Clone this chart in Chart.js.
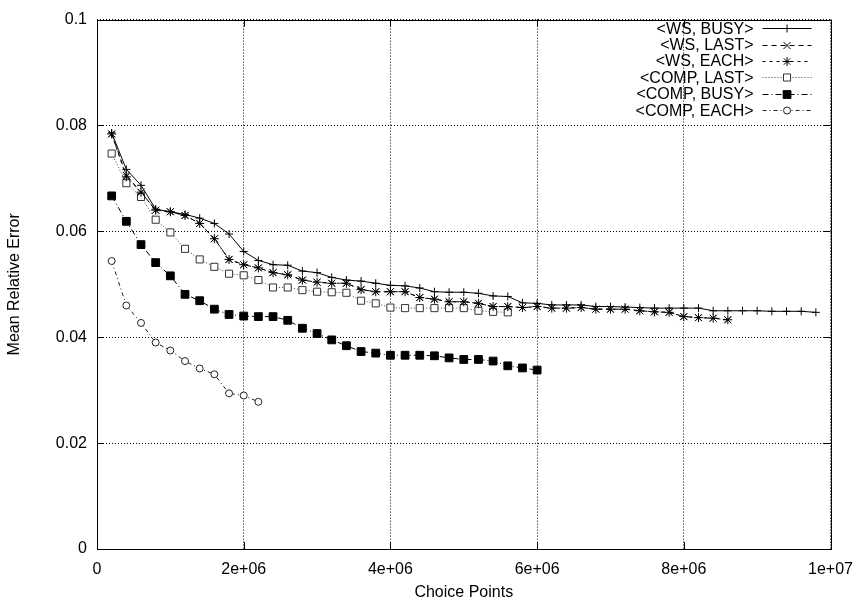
<!DOCTYPE html>
<html>
<head>
<meta charset="utf-8">
<script src="https://cdn.jsdelivr.net/npm/chart.js@4.4.1/dist/chart.umd.min.js"></script>
<style>
html,body{margin:0;padding:0;background:#fff;}
#wrap{width:864px;height:599px;position:relative;}
</style>
</head>
<body>
<div id="wrap"><canvas id="c" width="864" height="599"></canvas></div>
<script>
// ---- data ----
const choicePoints = [200000,400000,600000,800000,1000000,1200000,1400000,1600000,1800000,2000000,
  2200000,2400000,2600000,2800000,3000000,3200000,3400000,3600000,3800000,4000000,
  4200000,4400000,4600000,4800000,5000000,5200000,5400000,5600000,5800000,6000000,
  6200000,6400000,6600000,6800000,7000000,7200000,7400000,7600000,7800000,8000000,
  8200000,8400000,8600000,8800000,9000000,9200000,9400000,9600000,9800000];
const seriesNames = ['<WS, BUSY>','<WS, LAST>','<WS, EACH>','<COMP, LAST>','<COMP, BUSY>','<COMP, EACH>'];
const wsBusy = [0.0786,0.0717,0.0687,0.0642,0.0637,0.0632,0.0625,0.0615,0.0595,0.0562,
  0.0545,0.0537,0.0536,0.0525,0.0522,0.0513,0.0508,0.0506,0.0502,0.0498,
  0.0497,0.0493,0.0486,0.0485,0.0485,0.0483,0.0478,0.0477,0.0465,0.0464,
  0.0461,0.0461,0.0461,0.0458,0.0458,0.0457,0.0456,0.0455,0.0455,0.0455,
  0.0455,0.0450,0.0450,0.0450,0.0450,0.0449,0.0449,0.0449,0.0447];
const wsLast = [0.0784,0.0706,0.0674,0.0640,0.0637,0.0630,0.0615,0.0586,0.0547,0.0537,
  0.0531,0.0522,0.0518,0.0508,0.0504,0.0502,0.0502,0.0490,0.0486,0.0486,
  0.0486,0.0475,0.0472,0.0467,0.0467,0.0464,0.0458,0.0458,0.0456,0.0458,
  0.0455,0.0455,0.0456,0.0453,0.0453,0.0453,0.0450,0.0448,0.0447,0.0439,
  0.0437,0.0436,0.0433];
const wsEach = [0.0784,0.0703,0.0674,0.0640,0.0637,0.0630,0.0615,0.0586,0.0547,0.0537,
  0.0531,0.0522,0.0518,0.0508,0.0504,0.0502,0.0502,0.0490,0.0486,0.0486,
  0.0486,0.0475,0.0472,0.0467,0.0467,0.0464,0.0458,0.0458,0.0456,0.0458,
  0.0455,0.0455,0.0456,0.0453,0.0453,0.0453,0.0450,0.0448,0.0447,0.0439,
  0.0437,0.0436,0.0433];
const compLast = [0.0747,0.0691,0.0665,0.0622,0.0598,0.0567,0.0547,0.0533,0.0520,0.0517,
  0.0508,0.0494,0.0494,0.0489,0.0486,0.0485,0.0484,0.0469,0.0464,0.0456,
  0.0455,0.0455,0.0455,0.0455,0.0455,0.0450,0.0448,0.0447];
const compBusy = [0.0667,0.0619,0.0575,0.0541,0.0516,0.0481,0.0469,0.0453,0.0443,0.0440,
  0.0439,0.0439,0.0432,0.0417,0.0407,0.0395,0.0384,0.0373,0.0370,0.0366,
  0.0366,0.0366,0.0365,0.0361,0.0358,0.0358,0.0355,0.0346,0.0342,0.0338];
const compEach = [0.0544,0.0460,0.0427,0.0390,0.0375,0.0355,0.0341,0.0330,0.0294,0.0290,0.0278];
const xTicks = [0,2000000,4000000,6000000,8000000,10000000];
const yTicks = [0,0.02,0.04,0.06,0.08,0.1];

// ---- styles ----
const FONT = "'Liberation Sans', Arial, Helvetica, sans-serif";
const styles = [
  {dash:[], pointStyle:'cross', radius:4, fill:'#000', stroke:'#000', lineColor:'#000'},
  {dash:[5,4], pointStyle:'crossRot', radius:5, fill:'#000', stroke:'#000', lineColor:'#000'},
  {dash:[3,4], pointStyle:'star', radius:4.5, fill:'#000', stroke:'#000', lineColor:'#000'},
  {dash:[1,2], pointStyle:'rect', radius:5, fill:'#fff', stroke:'#333', lineColor:'#444'},
  {dash:[6,3,1,3], pointStyle:'rect', radius:5.5, fill:'#000', stroke:'#000', lineColor:'#000'},
  {dash:[4,3,1,3], pointStyle:'circle', radius:3.5, fill:'#fff', stroke:'#222', lineColor:'#222'}
];
const allValues = [wsBusy, wsLast, wsEach, compLast, compBusy, compEach];

const datasets = allValues.map((vals, i) => ({
  label: seriesNames[i],
  data: vals.map((v, j) => ({x: choicePoints[j], y: v})),
  borderColor: styles[i].lineColor,
  borderWidth: 1,
  borderDash: styles[i].dash,
  pointStyle: styles[i].pointStyle,
  pointRadius: styles[i].radius,
  pointBorderWidth: 1,
  pointBorderColor: styles[i].stroke,
  pointBackgroundColor: styles[i].fill,
  fill: false,
  tension: 0
}));

function fmtX(v){
  if (v === 0) return '0';
  const e = Math.floor(Math.log10(v) + 1e-9);
  const m = Math.round(v / Math.pow(10, e));
  return m + 'e+' + String(e).padStart(2, '0');
}

const framePlugin = {
  id: 'frame',
  afterDatasetsDraw(chart) {
    const {ctx, chartArea: a, scales} = chart;
    ctx.save();
    ctx.strokeStyle = '#000';
    ctx.lineWidth = 1;
    ctx.setLineDash([]);
    ctx.strokeRect(Math.round(a.left)+0.5, Math.round(a.top)+0.5, Math.round(a.right-a.left), Math.round(a.bottom-a.top));
    const tl = 7;
    ctx.beginPath();
    xTicks.forEach(t => {
      const x = Math.round(scales.x.getPixelForValue(t)) + 0.5;
      ctx.moveTo(x, a.bottom); ctx.lineTo(x, a.bottom - tl);
      ctx.moveTo(x, a.top); ctx.lineTo(x, a.top + tl);
    });
    yTicks.forEach(t => {
      const y = Math.round(scales.y.getPixelForValue(t)) + 0.5;
      ctx.moveTo(a.left, y); ctx.lineTo(a.left + tl, y);
      ctx.moveTo(a.right, y); ctx.lineTo(a.right - tl, y);
    });
    ctx.stroke();
    ctx.restore();
  },
  afterDraw(chart) {
    // legend in gnuplot style (text right-aligned, sample to the right)
    const {ctx, chartArea: a} = chart;
    ctx.save();
    ctx.font = '16px ' + FONT;
    ctx.textAlign = 'right';
    ctx.textBaseline = 'middle';
    const textRight = a.right - 77;
    const x1 = a.right - 68, x2 = a.right - 19, y0 = a.top + 8.5, dy = 16.4;
    chart.data.datasets.forEach((ds, i) => {
      const y = y0 + i * dy;
      ctx.fillStyle = '#000';
      ctx.fillText(ds.label, textRight, y + 1);
      ctx.beginPath();
      ctx.setLineDash(ds.borderDash);
      ctx.strokeStyle = ds.borderColor;
      ctx.lineWidth = 1;
      ctx.moveTo(x1, Math.round(y)+0.5); ctx.lineTo(x2, Math.round(y)+0.5);
      ctx.stroke();
      ctx.setLineDash([]);
      ctx.fillStyle = ds.pointBackgroundColor;
      ctx.strokeStyle = ds.pointBorderColor;
      Chart.helpers.drawPoint(ctx, {pointStyle: ds.pointStyle, radius: ds.pointRadius, borderWidth: 1, rotation: 0}, (x1+x2)/2, Math.round(y)+0.5);
    });
    ctx.restore();
  }
};

new Chart(document.getElementById('c'), {
  type: 'line',
  data: {datasets},
  options: {
    responsive: false,
    animation: false,
    devicePixelRatio: 1,
    layout: {padding: {top: 16, right: 28, left: 0, bottom: 0}},
    plugins: {legend: {display: false}, tooltip: {enabled: false}},
    scales: {
      x: {
        type: 'linear', min: 0, max: 10000000,
        afterBuildTicks: s => { s.ticks = xTicks.map(v => ({value: v})); },
        afterFit: s => { s.height = 50; },
        ticks: {callback: v => fmtX(v), color: '#000', font: {family: FONT, size: 16}, padding: 11, maxRotation: 0, autoSkip: false},
        grid: {color: '#000', lineWidth: 1, drawTicks: false},
        border: {display: false, dash: [1, 2]},
        title: {display: true, text: 'Choice Points', color: '#000', font: {family: FONT, size: 16, lineHeight: 1}, padding: {top: 0, bottom: -2}}
      },
      y: {
        type: 'linear', min: 0, max: 0.1,
        afterBuildTicks: s => { s.ticks = yTicks.map(v => ({value: v})); },
        afterFit: s => { s.width = 97; },
        ticks: {callback: v => String(parseFloat(v.toFixed(2))), color: '#000', font: {family: FONT, size: 16}, padding: 10},
        grid: {color: '#000', lineWidth: 1, drawTicks: false},
        border: {display: false, dash: [1, 2]},
        title: {display: true, text: 'Mean Relative Error', color: '#000', font: {family: FONT, size: 16, lineHeight: 1}, padding: {top: 7, bottom: 0}}
      }
    }
  },
  plugins: [framePlugin]
});
</script>
</body>
</html>
